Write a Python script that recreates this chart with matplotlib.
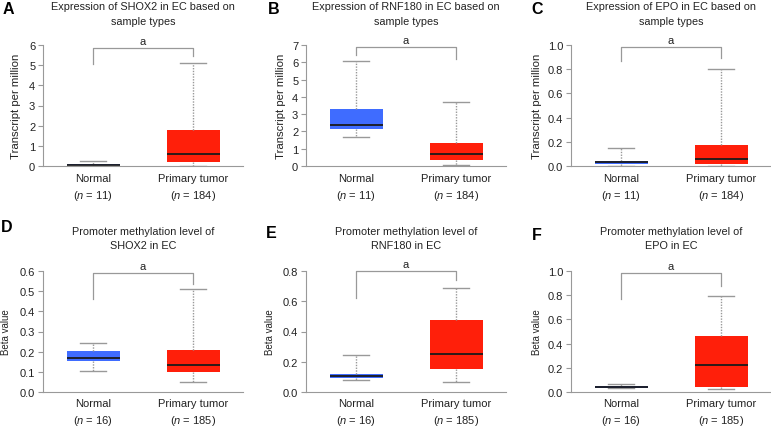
import matplotlib.pyplot as plt
import numpy as np

# five-number summaries: whisker low, Q1, median, Q3, whisker high
shox2_expr_normal = [0.0, 0.03, 0.07, 0.1, 0.25]
shox2_expr_tumor = [0.02, 0.2, 0.6, 1.8, 5.1]
rnf180_expr_normal = [1.65, 2.15, 2.4, 3.3, 6.1]
rnf180_expr_tumor = [0.03, 0.35, 0.7, 1.35, 3.7]
epo_expr_normal = [0.0, 0.015, 0.03, 0.045, 0.145]
epo_expr_tumor = [0.0, 0.02, 0.06, 0.17, 0.8]
shox2_meth_normal = [0.105, 0.155, 0.17, 0.205, 0.245]
shox2_meth_tumor = [0.048, 0.1, 0.135, 0.21, 0.51]
rnf180_meth_normal = [0.08, 0.095, 0.105, 0.12, 0.245]
rnf180_meth_tumor = [0.065, 0.155, 0.25, 0.475, 0.685]
epo_meth_normal = [0.03, 0.033, 0.04, 0.047, 0.065]
epo_meth_tumor = [0.025, 0.045, 0.225, 0.465, 0.79]

panel_letters = ['A', 'B', 'C', 'D', 'E', 'F']
titles = [('Expression of SHOX2 in EC based on', 'sample types'),
          ('Expression of RNF180 in EC based on', 'sample types'),
          ('Expression of EPO in EC based on', 'sample types'),
          ('Promoter methylation level of', 'SHOX2 in EC'),
          ('Promoter methylation level of', 'RNF180 in EC'),
          ('Promoter methylation level of', 'EPO in EC')]
ylabels = ['Transcript per million'] * 3 + ['Beta value'] * 3
y_max = [6, 7, 1.0, 0.6, 0.8, 1.0]
y_step = [1, 1, 0.2, 0.1, 0.2, 0.2]
n_normal = [11, 11, 11, 16, 16, 16]
n_tumor = [184, 184, 184, 185, 185, 185]
# bracket: top, left leg end, right leg end
bracket_top = [5.85, 6.88, 0.98, 0.592, 0.8, 0.985]
bracket_left = [5.05, 6.45, 0.87, 0.459, 0.623, 0.765]
bracket_right = [5.45, 6.2, 0.89, 0.534, 0.738, 0.875]

normals = [shox2_expr_normal, rnf180_expr_normal, epo_expr_normal,
           shox2_meth_normal, rnf180_meth_normal, epo_meth_normal]
tumors = [shox2_expr_tumor, rnf180_expr_tumor, epo_expr_tumor,
          shox2_meth_tumor, rnf180_meth_tumor, epo_meth_tumor]

plt.rcParams['font.family'] = 'Liberation Sans'
plt.rcParams['mathtext.fontset'] = 'custom'
plt.rcParams['mathtext.it'] = 'Liberation Sans:italic'
plt.rcParams['mathtext.rm'] = 'Liberation Sans'

fig = plt.figure(figsize=(7.71, 4.27), dpi=100)
W, H = 771, 427
lefts = [43, 306, 571]
tops = [46, 272]
ax_w, ax_h = 200, 121
grey = '#999999'
txt = '#222222'

# layout in pixels, measured on the reference
title_y = [(7, 22), (232, 246)]
letter_pos = [(8, 10), (274, 10), (537, 10), (7, 228), (271, 234), (537, 236)]
ylabel_center = [16, 281, 537, 6, 270, 537]


def stats(vals):
    lo, q1, med, q3, hi = vals
    return dict(whislo=lo, q1=q1, med=med, q3=q3, whishi=hi, fliers=[])


for i in range(6):
    r, c = divmod(i, 3)
    ax = fig.add_axes([lefts[c] / W, 1 - (tops[r] + ax_h) / H, ax_w / W, ax_h / H])
    bp = ax.bxp([stats(normals[i]), stats(tumors[i])], positions=[1, 2],
                widths=0.53, patch_artist=True, showfliers=False,
                boxprops=dict(linewidth=0),
                whiskerprops=dict(color=grey, linestyle=(0, (1, 1)), linewidth=1),
                capprops=dict(color=grey, linewidth=1),
                medianprops=dict(color='#1a1a1a', linewidth=1.3),
                capwidths=0.26)
    bp['boxes'][0].set_facecolor('#3f6cff')
    bp['boxes'][1].set_facecolor('#ff1f0a')

    ax.set_xlim(0.5, 2.5)
    ax.set_ylim(0, y_max[i])
    ticks = np.arange(0, y_max[i] + y_step[i] / 2, y_step[i])
    ax.set_yticks(ticks)
    if y_step[i] < 1:
        ax.set_yticklabels([f'{t:.1f}' for t in ticks])
    ax.set_xticks([1, 2])
    ax.set_xticklabels([f'Normal\n($\\mathit{{n}}$ = {n_normal[i]})',
                        f'Primary tumor\n($\\mathit{{n}}$ = {n_tumor[i]})'],
                       linespacing=1.5)
    ax.tick_params(axis='x', length=0, pad=5 if r == 0 else 4.5, labelsize=8, colors=txt)
    ax.tick_params(axis='y', length=3.6, width=0.8, color=grey, labelsize=8,
                   pad=2, labelcolor=txt)
    for s in ['top', 'right']:
        ax.spines[s].set_visible(False)
    for s in ['left', 'bottom']:
        ax.spines[s].set_color(grey)
        ax.spines[s].set_linewidth(0.8)
    ax.set_ylabel('')

    lsize = 8.2 if r == 0 else 7
    fig.text(ylabel_center[i] / W, 1 - (tops[r] + ax_h / 2) / H, ylabels[i],
             rotation=90, ha='center', va='center', fontsize=lsize, color=txt)

    cx = (lefts[c] + ax_w / 2) / W
    for line, ty in zip(titles[i], title_y[r]):
        fig.text(cx, 1 - ty / H, line, ha='center', va='center', fontsize=7.8, color=txt)

    # significance bracket
    ax.plot([1, 1, 2, 2], [bracket_left[i], bracket_top[i], bracket_top[i], bracket_right[i]],
            color=grey, linewidth=0.9, clip_on=False)
    ax.annotate('a', (1.5, bracket_top[i]), xytext=(0, 5), textcoords='offset points',
                ha='center', va='center', fontsize=8, color=txt, annotation_clip=False)

    lx, ly = letter_pos[i]
    fig.text(lx / W, 1 - ly / H, panel_letters[i], ha='center', va='center',
             fontsize=11.5, fontweight='bold')

fig.savefig('out.png', dpi=100)
